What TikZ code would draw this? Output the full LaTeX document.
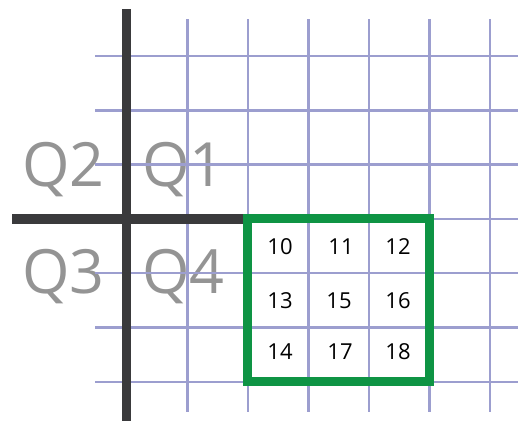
\documentclass[tikz,border=0pt]{standalone}
\usepackage{fontspec}
\setmainfont{Open Sans}
\definecolor{gridc}{HTML}{9C9ECF}
\definecolor{axisc}{HTML}{3A3A3C}
\definecolor{boxc}{HTML}{0E9444}
\begin{document}
\begin{tikzpicture}[x=1pt,y=-1pt,
  gridline/.style={draw=gridc,line width=2.4pt},
  axisline/.style={draw=axisc,line width=9.5pt},
  quad/.style={text=black,text opacity=0.42,font=\fontsize{61}{61}\selectfont,inner sep=0pt},
  num/.style={text=black,font=\fontsize{22}{22}\selectfont,inner sep=0pt}]
\useasboundingbox[fill=white] (0,0) rectangle (518,421);
% quadrant labels
\node[quad,anchor=base east] (q2) at (105,186) {Q2};
\node[quad,anchor=base west] (q1) at (142,186) {Q1};
\node[quad,anchor=base east] (q3) at (105,293) {Q3};
\node[quad,anchor=base west] (q4) at (142,293) {Q4};
% grid
\foreach \gx in {187.5,248,308.5,369,429.5,490}
  \draw[gridline] (\gx,19) -- (\gx,412);
\foreach \gy in {56,110.3,164.6,219,273,327.3,381.7}
  \draw[gridline] (95,\gy) -- (518,\gy);
% axes
\draw[axisline] (126.7,9) -- (126.7,421);
\draw[axisline] (12,219) -- (247,219);
% green box
\draw[draw=boxc,line width=9pt] (247,218.6) rectangle (429.5,381.2);
% numbers
\node[num] (n10) at (280,247) {10};
\node[num] (n11) at (341,247) {11};
\node[num] (n12) at (398,247) {12};
\node[num] (n13) at (280,301) {13};
\node[num] (n15) at (339,301) {15};
\node[num] (n16) at (398,301) {16};
\node[num] (n14) at (280,352) {14};
\node[num] (n17) at (340,352) {17};
\node[num] (n18) at (398,352) {18};
\end{tikzpicture}
\end{document}
